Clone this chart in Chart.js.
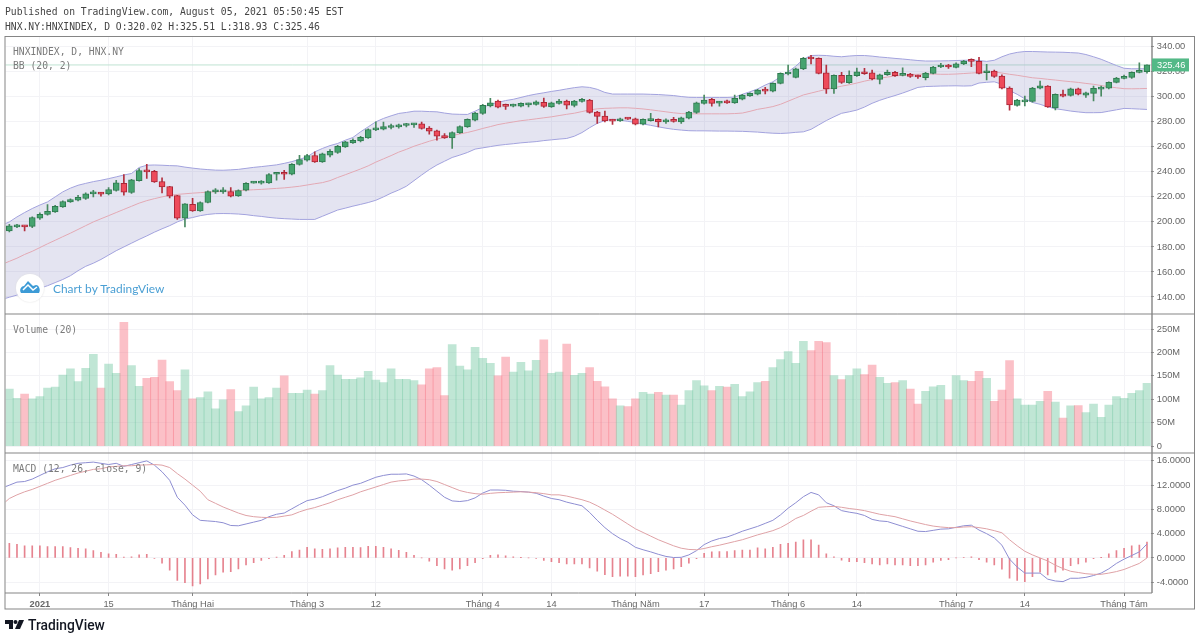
<!DOCTYPE html>
<html>
<head>
<meta charset="utf-8">
<script src="https://cdn.jsdelivr.net/npm/chart.js@4"></script>
<style>
  html, body { margin: 0; padding: 0; background: #fff; overflow: hidden; }
  #wrap { position: relative; width: 1200px; height: 640px; }
  canvas { position: absolute; left: 0; top: 0; }
  .mono { position: absolute; font-family: "DejaVu Sans Mono", monospace; font-size: 9.7px; line-height: 12px; white-space: pre; }
  .hdr { color: #444; }
  .pane { color: #7b7b7b; }
  #wm { position: absolute; left: 16px; top: 274px; width: 28px; height: 28px; border-radius: 50%; background: #fff; box-shadow: 0 0 2px #ddd; }
  #wmText { position: absolute; left: 53px; top: 281px; font: 11.9px Lato, sans-serif; color: #4a9fd4; white-space: pre; }
  #brand { position: absolute; left: 5px; top: 618px; height: 14px; }
  #brandText { position: absolute; left: 28px; top: 617px; font: 500 13.8px Roboto, sans-serif; color: #131722; }
</style>
</head>
<body>
<div id="wrap">
  <canvas id="chart" width="1200" height="640"></canvas>
  <div class="mono hdr" style="left:5px;top:6px">Published on TradingView.com, August 05, 2021 05:50:45 EST</div>
  <div class="mono hdr" style="left:5px;top:20.5px">HNX.NY:HNXINDEX, D O:320.02 H:325.51 L:318.93 C:325.46</div>
  <div class="mono pane" style="left:13px;top:46px">HNXINDEX, D, HNX.NY</div>
  <div class="mono pane" style="left:13px;top:60px">BB (20, 2)</div>
  <div class="mono pane" style="left:13px;top:324px">Volume (20)</div>
  <div class="mono pane" style="left:13px;top:463px">MACD (12, 26, close, 9)</div>
  <div id="wm">
    <svg width="28" height="28" viewBox="0 0 28 28"><path d="M5 19c-2-3 0-7 3-7l4-5 5 5 3-1c3 0 5 5 3 8z" fill="#3d9bd6"/><path d="M7 16l5-5 5 5 4-3" stroke="#fff" stroke-width="1.5" fill="none"/></svg>
  </div>
  <div id="wmText">Chart by TradingView</div>
  <svg id="brand" width="20" height="14" viewBox="0 0 20 14"><path d="M0 2h8v9H4V6H0z" fill="#131722"/><circle cx="10.5" cy="4" r="2" fill="#131722"/><path d="M14 2h5l-4 9h-5z" fill="#131722"/></svg>
  <div id="brandText">TradingView</div>
</div>
<script>
// OHLC giá
const openVals = [
  192.8,196.0,196.8,196.5,203.0,205.9,208.0,212.0,216.0,217.3,
  218.7,222.4,223.0,222.4,225.1,230.9,223.5,233.0,241.0,240.5,
  232.3,228.3,221.0,203.0,214.1,208.8,215.5,224.0,224.0,224.3,
  220.8,225.3,231.0,231.0,231.2,238.1,239.2,238.1,245.9,249.3,
  253.1,248.0,253.3,255.5,260.0,263.2,264.8,267.2,273.6,274.1,
  275.5,276.0,277.1,277.6,278.4,275.0,272.8,269.1,267.2,271.2,
  276.0,281.4,286.7,292.8,296.6,293.1,292.6,292.6,293.6,293.9,
  295.5,292.0,294.7,296.6,293.1,296.3,297.4,287.8,284.6,281.4,
  280.8,283.0,282.4,278.2,281.0,281.9,280.0,281.6,280.0,283.0,
  287.5,294.7,297.9,295.0,296.3,295.2,298.2,300.8,302.2,305.6,
  304.6,310.7,318.2,315.5,322.2,331.2,330.7,319.2,306.4,317.1,
  311.2,316.8,319.5,319.2,313.9,317.6,319.5,317.1,318.2,316.8,
  315.2,318.7,323.8,324.8,323.5,326.2,329.4,328.3,319.2,320.6,
  316.6,307.0,293.1,296.0,296.3,307.0,308.6,291.2,301.9,301.1,
  306.4,301.4,302.7,306.2,307.0,311.5,314.7,315.5,319.5,320.02
];
const closeVals = [
  196.8,196.8,196.0,203.5,206.1,208.5,212.5,216.3,217.9,219.7,
  222.4,223.2,222.2,225.9,231.2,223.7,233.6,241.0,240.0,232.0,
  228.0,220.5,203.0,214.4,208.8,215.5,224.3,224.8,224.8,220.5,
  225.1,230.9,231.7,231.7,237.9,238.9,238.1,246.1,249.9,253.1,
  248.0,254.4,256.5,260.5,264.0,265.3,267.7,273.9,274.7,276.2,
  276.5,277.0,277.9,278.4,274.7,272.6,268.6,267.2,271.5,276.3,
  281.9,287.0,293.1,295.2,291.8,292.3,293.4,294.7,294.4,296.0,
  292.3,295.2,296.6,293.4,296.6,297.4,287.5,284.3,280.8,280.6,
  282.4,282.2,278.2,281.9,281.9,280.0,281.4,280.3,283.2,287.8,
  295.2,297.4,294.7,295.8,295.2,298.7,301.4,302.7,305.4,304.6,
  310.7,318.7,319.5,322.4,330.7,330.2,318.7,306.4,317.1,311.5,
  317.1,320.0,318.4,314.2,317.6,319.5,316.8,317.9,316.3,315.8,
  319.0,323.8,324.8,323.8,326.4,328.6,328.3,318.7,320.6,316.3,
  307.0,293.6,297.4,297.4,307.0,308.8,292.0,301.9,300.6,306.4,
  302.2,303.2,306.7,307.2,311.5,315.0,316.0,319.5,320.8,325.46
];
const highVals = [
  198.1,198.1,197.0,204.0,207.2,213.9,213.3,216.8,218.4,221.3,
  223.2,225.3,223.7,227.4,233.3,237.9,234.1,242.6,246.1,241.3,
  235.2,228.5,221.3,214.7,218.9,216.0,224.8,226.7,227.4,227.4,
  225.6,231.5,232.2,233.0,238.7,239.5,241.3,246.7,253.3,254.1,
  256.0,255.0,257.9,261.3,264.5,266.4,268.5,274.4,280.0,279.7,
  278.1,278.1,278.7,278.7,279.8,276.3,273.4,270.7,272.0,276.8,
  282.4,287.5,293.9,298.7,297.4,294.2,294.2,295.2,295.0,296.8,
  299.0,295.8,297.9,297.4,297.1,298.7,297.9,288.3,288.6,281.9,
  283.0,283.2,283.0,282.4,286.7,282.4,282.4,283.5,283.8,288.3,
  295.8,301.4,298.7,296.3,297.4,301.4,301.9,303.2,305.9,307.5,
  311.2,319.2,325.4,323.0,331.5,333.1,331.2,325.4,317.6,319.5,
  320.8,323.0,322.7,321.4,318.2,321.4,320.3,323.2,318.7,317.4,
  319.5,324.3,326.7,325.9,327.2,329.1,330.4,331.5,325.9,321.4,
  317.6,308.0,297.9,300.6,307.5,312.6,309.0,302.4,305.4,307.0,
  307.0,303.8,308.6,308.6,312.0,315.5,317.4,320.0,327.2,325.51
];
const lowVals = [
  192.0,195.5,192.8,195.5,201.9,205.3,207.5,211.5,215.5,216.8,
  217.9,220.0,220.5,221.6,224.5,221.3,222.7,232.5,234.7,231.5,
  223.2,219.2,201.9,196.0,208.3,208.3,215.2,222.7,222.7,220.0,
  220.3,224.8,231.0,230.1,230.7,233.3,233.9,237.6,245.3,248.5,
  247.5,247.5,252.0,254.7,259.5,262.7,264.0,266.7,273.0,273.6,
  274.4,275.0,276.0,275.5,274.2,270.2,265.4,266.7,258.7,270.7,
  275.5,280.8,285.9,292.0,291.2,289.9,292.0,292.0,292.0,293.4,
  291.5,291.5,294.2,290.4,292.0,295.8,287.0,278.7,280.0,277.9,
  280.3,282.0,277.6,277.6,280.6,276.0,278.7,279.8,278.7,282.4,
  286.7,294.2,292.6,292.6,294.7,294.7,297.6,300.3,301.6,302.4,
  304.0,310.2,317.4,315.0,321.6,326.2,318.2,302.7,302.7,310.7,
  310.7,316.3,317.9,313.4,310.2,317.1,316.3,316.6,315.5,314.7,
  313.4,318.2,323.2,322.7,323.0,325.6,324.0,318.2,313.4,315.5,
  306.4,289.4,292.6,292.8,295.8,306.4,291.5,289.6,300.0,300.6,
  301.6,299.5,296.8,300.6,306.4,311.0,314.2,314.7,319.0,318.93
];
// Bollinger Bands, phần tử đầu là điểm ngay trước thanh đầu tiên (bị cắt ở mép trái)
const bbUpper = [
  197.4,
  200,204,207.5,210.7,213.5,216,220,224,227,229.3,
  230.8,232.2,233.3,234.6,236,237.5,238.7,243.5,245.3,245.5,
  245.3,245,244.8,243.8,243,242.3,241.8,241.4,241.3,241.6,
  242,242.8,243.6,244.2,244.9,245.6,246.8,248.2,250,252,
  256,258.7,261,262.7,265.3,267.5,272,276,280,282.7,
  284.8,286.7,287.5,288.5,288.5,288.2,288,287,286.2,286,
  285.9,288.5,291.5,294,295.5,297,298,299.5,301,302.2,
  303.2,304.3,305.2,306.3,307.3,308,307.5,306,303.5,302.2,
  302.2,302.2,302.2,302.2,302,301.8,301.4,301,300.2,299.6,
  299.5,299.5,299.5,299.5,299.5,299.8,302,304,306.3,309.4,
  312,316,320,324.5,330,333,333.2,333,332.4,332,
  332.6,333,333,332.5,331.8,331.3,330.7,330.2,329.6,329,
  328.6,328.6,328.7,328.8,329,329.2,329.3,329,328.3,329.2,
  332,334.2,335.5,336.2,336.2,336,335.8,335.7,335.6,335.3,
  335,333.8,332,330,327.5,325,322.8,322.4,322.4,322.4
];
const bbMid = [
  166,
  168.5,171,174,176.5,179.5,182.5,185.3,188.2,191,194,
  197,200,202.5,205,207.5,210,212.5,215,217,218.6,
  220,221.3,222,222.5,223,223.4,223.8,224.1,224.5,224.8,
  225,225.4,225.7,226,226.4,226.8,227.2,227.8,228.5,229.5,
  230.5,231.4,233,235.5,237.7,240,242.3,244.8,247.8,250.4,
  253,255.8,258,260.5,262.5,264.5,266.2,267.5,269,270.3,
  271.5,273,274.7,276.2,277.8,278.9,279.9,280.9,281.6,282.4,
  283.2,284,285,286,286.9,288.2,289.5,290.4,290.8,291,
  291.2,291.2,290.8,290.3,289.6,288.8,288,287.2,286.6,286.4,
  286.4,286.4,286.4,286.4,286.4,286.6,287,288.4,290,291,
  292.2,294,296.5,299,301.5,303,304.5,306,307.2,308.5,
  309.6,311,312.5,313.8,314.8,315.8,316.6,317.2,317.8,318,
  318.2,318.2,318,318,318.2,318.6,319,319.4,319.8,319.8,
  319,318,317.2,316.2,315.2,314.7,314,313.4,312.7,312.1,
  311.5,310.7,310,309,308,307.2,306.5,306.4,306.5,306.7
];
const bbLower = [
  138,
  139.8,141.5,143.3,145,147,149,151.5,154,157,161,
  164.5,167,170,173.5,177,180,183,186,188.8,191.8,
  194.5,197,200,202.3,203.5,205,206,206.6,206.7,206.6,
  206.3,205.8,205,204.4,203.6,203,202.6,202.3,202,202,
  202,204.5,207,209.5,211,212.6,214,215.5,217.3,220,
  223,225.5,228.5,233,237.5,241.8,245.5,248.5,251.5,253.4,
  255.5,258.2,259.2,260.2,261.2,261.9,262.5,263.2,263.7,264.2,
  265,265.6,266.2,266.7,268.5,271.4,275.3,278.8,281,282,
  281.3,280.4,279.4,278.3,277.2,276,274.9,274,273.4,272.9,
  272.8,272.8,272.7,272.6,272.6,272.5,272.4,272.1,271.8,271.3,
  270.9,270.7,271,271.6,272,274,277.5,281,284,286.8,
  288,289.4,291.8,294.8,297.2,299.2,301,303,305.2,307.5,
  308.2,308.4,308.6,308.7,308.8,308.6,308.8,311,311.6,312,
  310,305,302,298.4,295.5,294,292,290.5,289.6,288.6,
  287.9,287.3,287.3,287.4,288.5,289.6,290.7,290.5,290.2,289.9
];
// Khối lượng (triệu)
const volumeM = [
  122,102,111.5,101,106,124,126,152,165,138,
  166,196,124,175,155.5,264,172,128,145,147,
  184,138,119,163,101,104,116,80,99,121,
  74,86,126,101,104,124,150,113,113,120,
  111.5,119,172,152,143,143,146,160,141,136,
  165,143,143,140,131,165,168,108,217,171,
  163,211,187.5,177,150,190,158,179,161,183,
  227,155.5,158,218,151,155.5,168,138.5,127,101,
  86,84.5,101,115,111.5,115,109,109,88,119,
  140,129,119,128,126,132,106,116,136,138.5,
  168,185,202,177,224,204,224,221,150.5,142,
  150.5,165,153,173,147,134,136,140,122,90,
  117,127,130,99,150.5,140,138.5,160,145,96,
  120,182.5,101,88,88,96,117,94,60,86,
  87,72,90,62,88,106,102,113,119,134
];
// MACD, phần tử đầu cũng là điểm trước thanh đầu tiên
const macdLine = [
  11.5,
  12,12.5,12.6,13,13.6,14.2,14.7,14.9,15.3,15.6,
  15.7,15.8,15.6,15.4,15.6,15.1,15.4,15.7,16,15.3,
  14.2,12.8,10,8.7,7.1,6.2,6.1,6,5.8,5.35,
  5.3,5.6,5.9,6.2,6.8,7.2,7.4,8.1,8.8,9.45,
  9.7,10.1,10.6,11.1,11.5,12,12.3,12.8,13.3,13.6,
  13.8,13.8,13.85,13.5,12.9,12,11,10,9.4,9.3,
  9.45,9.9,10.7,11.2,11.2,11.15,11,10.95,10.85,10.66,
  10.2,9.8,9.6,9.2,8.9,8.6,7.5,6.2,5,4,
  3.2,2.6,1.75,1.35,1,0.6,0.25,0.07,0.1,0.5,
  1.2,2.2,2.8,3.2,3.45,3.9,4.4,4.8,5.2,5.7,
  6.2,7.1,8.2,9.1,10.1,10.8,10.4,9.1,8.6,7.8,
  7.55,7.35,7,6.35,6.1,6,5.6,5.2,4.8,4.4,
  4.35,4.55,4.75,4.8,5.05,5.3,5.4,4.6,4,3.3,
  2.1,-0.2,-1.5,-2.5,-2.5,-2.5,-3.5,-3.8,-3.9,-3.35,
  -3.35,-3.2,-2.9,-2.5,-1.8,-0.9,-0.2,0.4,1,2.3
];
const signalLine = [
  8.7,
  9.8,10.4,10.9,11.3,11.8,12.3,12.8,13.2,13.6,14,
  14.3,14.6,14.7,15,15.1,15.2,15.2,15.3,15.35,15.4,
  15.3,14.9,13.9,13,12,11,9.6,9,8.4,7.9,
  7.4,7,6.8,6.7,6.65,6.7,6.9,7.1,7.6,8,
  8.3,8.7,9.1,9.6,10,10.4,10.9,11.3,11.7,12.1,
  12.5,12.7,12.8,13,13,12.9,12.6,12.1,11.6,11.1,
  10.8,10.6,10.5,10.65,10.75,10.8,10.85,10.9,10.85,10.75,
  10.6,10.4,10.4,10.2,9.9,9.6,9.2,8.6,7.9,7.2,
  6.4,5.6,4.8,4.2,3.6,3,2.5,2,1.6,1.4,
  1.35,1.55,1.85,2.1,2.4,2.7,3,3.4,3.8,4.15,
  4.5,5,5.7,6.5,7,7.7,8.35,8.45,8.5,8.35,
  8.15,8,7.8,7.5,7.2,7,6.8,6.45,6.1,5.8,
  5.5,5.25,5.1,5,5,5.1,5.15,5,4.8,4.5,
  4.15,3,2,1.1,0.5,0,-0.5,-1.2,-1.75,-2.2,
  -2.4,-2.6,-2.7,-2.7,-2.5,-2.25,-1.9,-1.4,-0.9,0
];
const histVals = [
  2.4,2.25,2,2,2,1.87,1.87,1.87,1.7,1.6,
  1.5,1.2,0.93,0.66,0.6,0.16,0.2,0.5,0.6,-0.05,
  -0.88,-2,-3.7,-4.07,-4.6,-4.3,-3.46,-2.8,-2.36,-2.25,
  -1.8,-1.15,-0.77,-0.4,-0.1,0.16,0.44,1.04,1.3,1.76,
  1.5,1.43,1.5,1.65,1.76,1.76,1.7,1.92,1.92,1.76,
  1.5,1.26,0.93,0.44,0,-0.55,-1.26,-1.8,-2,-1.8,
  -1.26,-0.77,-0.1,0.44,0.5,0.33,0.2,0.05,0,-0.05,
  -0.4,-0.6,-0.77,-1,-1,-1,-1.65,-2.2,-2.75,-3.1,
  -3,-3,-3.1,-2.8,-2.6,-2.25,-2,-1.8,-1.43,-0.88,
  -0.1,0.77,1,1.04,1.04,1.2,1.3,1.3,1.65,1.5,
  1.76,2.25,2.4,2.6,3,3,2.14,0.66,0.2,-0.38,
  -0.6,-0.6,-0.77,-1,-1.15,-1,-1.15,-1.15,-1.26,-1.26,
  -1.15,-0.7,-0.4,-0.27,0,0.1,0.2,-0.27,-0.7,-1.15,
  -1.87,-3.35,-3.7,-3.9,-3.1,-2.36,-2.8,-2.36,-2,-1.26,
  -1,-0.7,-0.1,0.05,0.66,1.2,1.6,2,2.14,2.6
];
// Nhãn trục thời gian
const tickBars = [4, 13, 24, 39, 48, 62, 71, 82, 91, 102, 111, 124, 133, 146];
const tickNames = ['2021', '15', 'Tháng Hai', 'Tháng 3', '12', 'Tháng 4', '14', 'Tháng Năm', '17', 'Tháng 6', '14', 'Tháng 7', '14', 'Tháng Tám'];

// trục x là số thứ tự thanh, -1 là điểm trước thanh đầu tiên
const barIndex = [-1, ...closeVals.map((c, i) => i)];
const isUp = [true, ...closeVals.map((c, i) => c >= openVals[i])];
const gridCol = '#f3f3f6';
const lineCol = '#858585';
const axisFont = { family: '"Liberation Sans", Arial, sans-serif', size: 9.3 };

// khung, đường phân cách và nhãn giá cuối
const framePlugin = {
  id: 'frame',
  beforeDatasetsDraw(chart) {
    const { ctx, chartArea } = chart;
    const y = chart.scales.yPrice.getPixelForValue(closeVals[closeVals.length - 1]);
    ctx.save();
    ctx.strokeStyle = '#bfe3d2';
    ctx.lineWidth = 1;
    ctx.beginPath();
    ctx.moveTo(chartArea.left, y);
    ctx.lineTo(chartArea.right + 1, y);
    ctx.stroke();
    ctx.restore();
  },
  afterDraw(chart) {
    const { ctx, chartArea, scales } = chart;
    const last = closeVals[closeVals.length - 1];
    const y = scales.yPrice.getPixelForValue(last);
    const axisX = chartArea.right + 1.2;
    ctx.save();
    ctx.strokeStyle = lineCol;
    ctx.lineWidth = 1;
    ctx.strokeRect(5, 36.5, 1189.5, 572.5);
    [scales.yPrice.bottom, scales.yVol.bottom].forEach(p => {
      ctx.beginPath();
      ctx.moveTo(5, p);
      ctx.lineTo(1194.5, p);
      ctx.stroke();
    });
    ctx.lineWidth = 1.4;
    ctx.beginPath();
    ctx.moveTo(axisX, 36.5);
    ctx.lineTo(axisX, chartArea.bottom);
    ctx.stroke();
    ctx.lineWidth = 1;
    ctx.beginPath();
    ctx.moveTo(5, chartArea.bottom);
    ctx.lineTo(axisX, chartArea.bottom);
    ctx.stroke();
    ctx.fillStyle = '#53b987';
    ctx.fillRect(axisX, y - 6.5, 37, 13);
    ctx.fillStyle = '#fff';
    ctx.font = '9.3px "Liberation Sans", Arial, sans-serif';
    ctx.textBaseline = 'middle';
    ctx.textAlign = 'left';
    ctx.fillText(last.toFixed(2), axisX + 5, y + 0.5);
    ctx.restore();
  }
};

function paneAxis(weight, min, max, step, fmt) {
  return {
    position: 'right',
    stack: 'panes',
    stackWeight: weight,
    min: min,
    max: max,
    grid: { color: gridCol, tickColor: lineCol, tickLength: 3 },
    border: { display: false },
    ticks: {
      stepSize: step,
      includeBounds: false,
      autoSkip: false,
      padding: 3,
      color: '#666',
      font: axisFont,
      callback: fmt
    },
    afterFit(scale) { scale.width = 45; }
  };
}

new Chart(document.getElementById('chart'), {
  type: 'bar',
  plugins: [framePlugin],
  data: {
    labels: barIndex,
    datasets: [
      { type: 'line', yAxisID: 'yPrice', label: 'BB upper', data: bbUpper, borderColor: '#a3a3de', borderWidth: 1, pointRadius: 0, order: 9 },
      { type: 'line', yAxisID: 'yPrice', label: 'BB lower', data: bbLower, borderColor: '#a3a3de', borderWidth: 1, pointRadius: 0, order: 9,
        fill: { target: 0 }, backgroundColor: 'rgba(130,130,190,0.22)' },
      { type: 'line', yAxisID: 'yPrice', label: 'BB basis', data: bbMid, borderColor: '#e3a9b4', borderWidth: 1, pointRadius: 0, order: 8 },
      { yAxisID: 'yPrice', label: 'wick', data: [null, ...lowVals.map((l, i) => [l, highVals[i]])],
        backgroundColor: isUp.map(u => u ? '#4a8a62' : '#b3303f'), barThickness: 1, grouped: false, order: 5 },
      { yAxisID: 'yPrice', label: 'body', data: [null, ...openVals.map((o, i) => [Math.min(o, closeVals[i]), Math.max(o, closeVals[i])])],
        backgroundColor: isUp.map(u => u ? '#46a36f' : '#ee4b5b'), borderColor: isUp.map(u => u ? '#2f7a4f' : '#a92636'),
        borderWidth: 1, borderSkipped: false, barThickness: 6, minBarLength: 2, grouped: false, order: 4 },
      { yAxisID: 'yVol', label: 'Volume', data: [null, ...volumeM],
        backgroundColor: isUp.map(u => u ? 'rgba(110,197,158,0.43)' : 'rgba(245,110,125,0.43)'),
        barThickness: 8, grouped: false, order: 6 },
      { yAxisID: 'yMacd', label: 'Histogram', data: [null, ...histVals], backgroundColor: 'rgba(224,100,115,0.8)', barThickness: 1, grouped: false, order: 6 },
      { type: 'line', yAxisID: 'yMacd', label: 'MACD', data: macdLine, borderColor: '#8e8ed2', borderWidth: 1, pointRadius: 0, order: 3 },
      { type: 'line', yAxisID: 'yMacd', label: 'Signal', data: signalLine, borderColor: '#dfa2a6', borderWidth: 1, pointRadius: 0, order: 2 }
    ]
  },
  options: {
    responsive: false,
    animation: false,
    layout: { padding: { left: 5.6, right: 4.2, top: 36, bottom: 31 } },
    plugins: { legend: { display: false }, tooltip: { enabled: false } },
    scales: {
      x: {
        type: 'linear',
        min: -0.49,
        max: 149.5,
        offset: false,
        grid: { offset: false, tickLength: 3, color: gridCol, tickColor: lineCol },
        border: { display: false },
        afterBuildTicks(scale) { scale.ticks = tickBars.map(b => ({ value: b })); },
        ticks: {
          autoSkip: false,
          maxRotation: 0,
          padding: 3,
          color: '#666',
          font: ctx => (ctx.tick && ctx.tick.label === '2021' ? { ...axisFont, weight: 'bold' } : axisFont),
          callback: (v, i) => tickNames[i]
        },
        afterFit(scale) { scale.height = 16; }
      },
      yPrice: paneAxis(278, 126.4, 348.6, 20, v => v.toFixed(2)),
      yVol: paneAxis(139, -14.3, 282, 50, v => (v === 0 ? '0' : v + 'M')),
      yMacd: paneAxis(140, -5.78, 17.3, 4, v => v.toFixed(4))
    }
  }
});
</script>
</body>
</html>
